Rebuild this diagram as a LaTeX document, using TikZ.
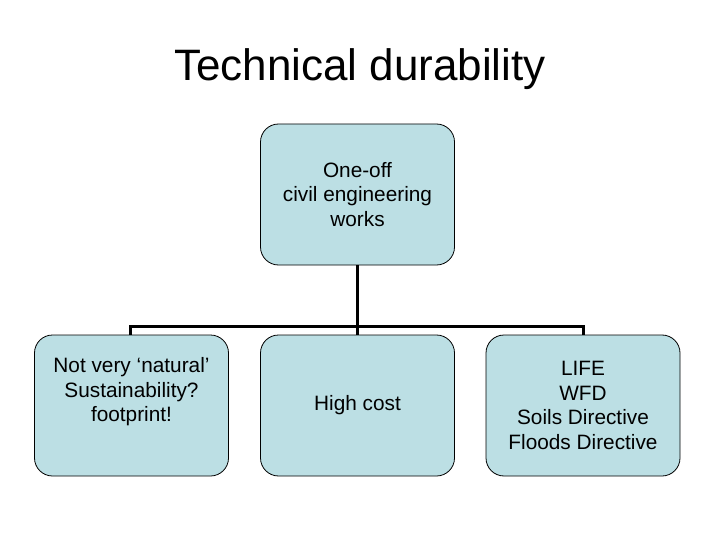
\documentclass[tikz,border=0pt]{standalone}
\usepackage{fontspec}
\setmainfont{Liberation Sans}
\definecolor{boxfill}{RGB}{188,223,228}
\begin{document}
\begin{tikzpicture}[x=1pt,y=-1pt,
  orgbox/.style={draw=black, line width=0.8pt, fill=boxfill, rounded corners=18pt,
    minimum width=194pt, minimum height=141pt, align=center, inner sep=0pt,
    font=\fontsize{20.8}{24.6}\selectfont},
  conn/.style={line width=3pt, draw=black}]
\useasboundingbox (0,0) rectangle (720,540);
\node[font=\fontsize{44}{50}\selectfont] (title) at (360,69) {Technical durability};
\node[orgbox] (top) at (357.5,194.5) {One-off\\civil engineering\\works};
\node[orgbox] (l) at (131.5,405.5) {Not very ‘natural’\\Sustainability?\\footprint!\\\strut};
\node[orgbox] (m) at (357.5,405.5) {High cost};
\node[orgbox] (r) at (583,405.5) {LIFE\\WFD\\Soils Directive\\Floods Directive};
\coordinate (bl) at (130,326);
\coordinate (br) at (583,326);
\draw[conn] (top.south) -- (m.north);
\draw[conn] (l.north -| bl) -- (bl) -- (br) -- (r.north -| br);
\end{tikzpicture}
\end{document}
